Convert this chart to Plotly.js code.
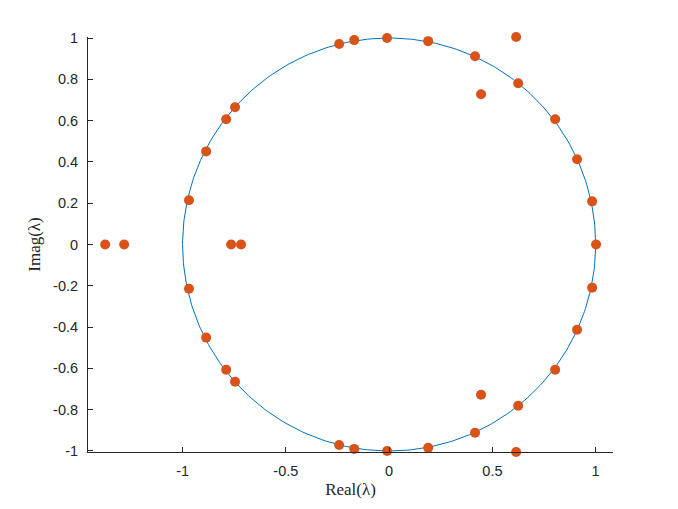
<!DOCTYPE html>
<html>
<head>
<meta charset="utf-8">
<script src="https://cdn.plot.ly/plotly-3.0.1.min.js"></script>
<style>
  html, body { margin: 0; padding: 0; background: #fff; }
  #plot { width: 678px; height: 509px; }
</style>
</head>
<body>
<div id="plot"></div>
<script>
// eigenvalues (upper half; the lower half is the conjugate)
const reUpper = [1.002, 0.983, 0.910, 0.804, 0.625, 0.416, 0.189, -0.010, -0.169, -0.242,
                 -0.746, -0.789, -0.886, -0.969, 0.445, 0.615];
const imUpper = [0.000, 0.209, 0.413, 0.607, 0.781, 0.912, 0.985, 1.000, 0.990, 0.971,
                 0.665, 0.607, 0.451, 0.214, 0.728, 1.005];
// purely real eigenvalues off the circle
const reAxis = [-1.375, -1.283, -0.765, -0.717];
const imAxis = [0, 0, 0, 0];

const xTicks = [-1, -0.5, 0, 0.5, 1];
const yTicks = [-1, -0.8, -0.6, -0.4, -0.2, 0, 0.2, 0.4, 0.6, 0.8, 1];

// unit circle for reference
const theta = [];
for (let i = 0; i <= 360; i++) theta.push(i * Math.PI / 180);

const re = reUpper.concat(reUpper.filter((v, i) => imUpper[i] !== 0), reAxis);
const im = imUpper.concat(imUpper.filter(v => v !== 0).map(v => -v), imAxis);

const circle = {
  x: theta.map(t => Math.cos(t)),
  y: theta.map(t => Math.sin(t)),
  mode: "lines",
  type: "scatter",
  line: { color: "#0072BD", width: 1 },
  hoverinfo: "skip"
};

const eig = {
  x: re,
  y: im,
  mode: "markers",
  type: "scatter",
  marker: { color: "#D95319", size: 10 },
  cliponaxis: false
};

const tickFont = { family: "Liberation Sans, Arial, sans-serif", size: 14.5, color: "#262626" };
const titleFont = { family: "Liberation Serif, DejaVu Serif, serif", size: 17, color: "#262626" };

const layout = {
  width: 678,
  height: 509,
  showlegend: false,
  paper_bgcolor: "#fff",
  plot_bgcolor: "#fff",
  margin: { l: 88, r: 65, t: 37, b: 57 },
  xaxis: {
    range: [-1.458, 1.084],
    tickvals: xTicks,
    ticktext: xTicks.map(String),
    ticks: "inside",
    ticklen: 5,
    tickcolor: "#262626",
    ticklabelstandoff: 6,
    showline: true,
    linecolor: "#262626",
    linewidth: 1,
    showgrid: false,
    zeroline: false,
    tickfont: tickFont,
    title: { text: "Real(λ)", font: titleFont, standoff: 4 }
  },
  yaxis: {
    range: [-1.005, 1.005],
    tickvals: yTicks,
    ticktext: yTicks.map(String),
    ticks: "inside",
    ticklen: 5,
    tickcolor: "#262626",
    ticklabelstandoff: 6,
    showline: true,
    linecolor: "#262626",
    linewidth: 1,
    showgrid: false,
    zeroline: false,
    tickfont: tickFont,
    title: { text: "Imag(λ)", font: titleFont, standoff: 8 }
  }
};

Plotly.newPlot("plot", [circle, eig], layout, { staticPlot: true });
</script>
</body>
</html>
